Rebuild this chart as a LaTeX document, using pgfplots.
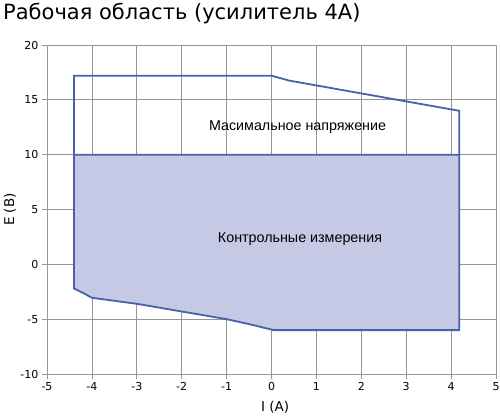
\documentclass[border=0pt]{standalone}
\usepackage{pgfplots}
\pgfplotsset{compat=1.18}
\usepackage{fontspec}
\setmainfont{Liberation Sans}
\newfontfamily\dejavu{DejaVu Sans}
\definecolor{edge}{RGB}{70,98,168}
\definecolor{area}{RGB}{197,201,230}
\definecolor{gridgray}{RGB}{150,150,150}
\begin{document}
\begin{tikzpicture}[x=1pt,y=1pt]
\useasboundingbox (0,0) rectangle (500,416);
\node[anchor=base west, inner sep=0pt, font=\dejavu\fontsize{21}{25}\selectfont] at (3,396) {Рабочая область (усилитель 4А)};
\begin{axis}[
  at={(47pt,42pt)}, anchor=south west,
  scale only axis, width=449pt, height=329pt,
  xmin=-5, xmax=5, ymin=-10, ymax=20,
  xtick={-5,...,5}, ytick={-10,-5,...,20},
  grid=major, major grid style={gridgray, line width=0.8pt},
  axis line style={gridgray, line width=0.8pt},
  tick style={gridgray, line width=0.8pt},
  tick align=outside, major tick length=5pt,
  xtick pos=bottom, ytick pos=left,
  ticklabel style={font=\dejavu\fontsize{11}{13}\selectfont},
  /pgf/number format/assume math mode=true,
  xlabel={I (A)}, ylabel={E (В)},
  label style={font=\dejavu\fontsize{13.5}{15}\selectfont},
  xlabel style={at={(axis description cs:0.508,-0.1003)}, anchor=center},
  ylabel style={at={(axis description cs:-0.0824,0.5)}, anchor=center},
]
% lower region: control measurements
\addplot[draw=edge, line width=1.8pt, fill=area] coordinates {
(-4.40,10) (4.18,10) (4.18,-6) (0.05,-6) (-0.5,-5.45) (-1,-5.0)
(-2,-4.3) (-3,-3.6) (-4,-3.05) (-4.2,-2.6) (-4.40,-2.2)
} -- cycle;
% upper region: maximum voltage
\addplot[draw=edge, line width=1.8pt] coordinates {
(-4.40,10) (-4.40,17.2) (0,17.2) (0.4,16.75) (4.18,14.0) (4.18,10)
};
\node[anchor=base, font=\fontsize{14.3}{17}\selectfont] at (axis cs:0.58,12.18) {Масимальное напряжение};
\node[anchor=base, font=\fontsize{14.3}{17}\selectfont] at (axis cs:0.635,2.0) {Контрольные измерения};
\end{axis}
\end{tikzpicture}
\end{document}
